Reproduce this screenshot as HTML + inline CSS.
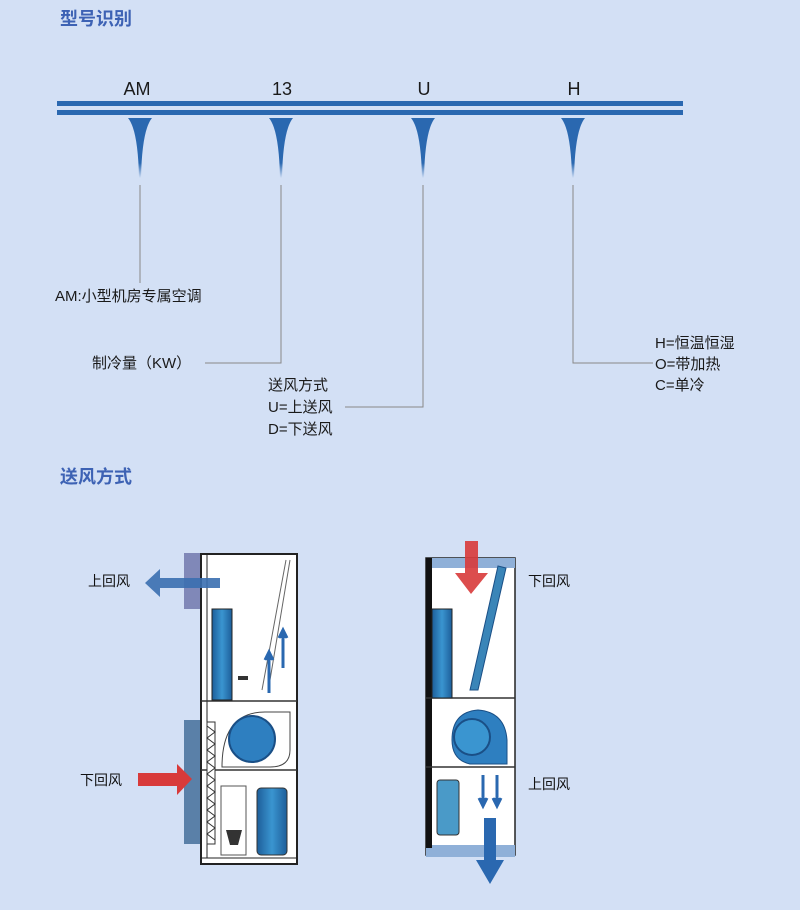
<!DOCTYPE html>
<html><head><meta charset="utf-8"><style>
body{margin:0;background:#d3e0f5;}
svg{display:block;font-family:"Liberation Sans","Noto Sans CJK SC",sans-serif;}
</style></head><body>
<svg width="800" height="910" viewBox="0 0 800 910">
<defs>
<linearGradient id="td" x1="0" y1="0" x2="0" y2="1"><stop offset="0" stop-color="#2a68b0"/><stop offset="0.75" stop-color="#2a68b0"/><stop offset="1" stop-color="#d3e0f5"/></linearGradient>
<linearGradient id="cyl" x1="0" y1="0" x2="1" y2="0"><stop offset="0" stop-color="#1d5e9a"/><stop offset="0.5" stop-color="#3a95d0"/><stop offset="1" stop-color="#1d5e9a"/></linearGradient>
</defs>
<rect width="800" height="910" fill="#d3e0f5"/>
<text x="60" y="25" font-size="18" font-weight="bold" fill="#3d62b4">型号识别</text>
<text x="60" y="483" font-size="18" font-weight="bold" fill="#3d62b4">送风方式</text>
<g font-size="18" fill="#1a1a1a" text-anchor="middle">
<text x="137" y="95">AM</text><text x="282" y="95">13</text><text x="424" y="95">U</text><text x="574" y="95">H</text></g>
<rect x="57" y="101" width="626" height="5" fill="#2a68b0"/>
<rect x="57" y="110" width="626" height="5" fill="#2a68b0"/>
<g fill="url(#td)">
<path d="M128 118 L152 118 Q142 130 141 178 L139 178 Q138 130 128 118Z"/>
<path d="M269 118 L293 118 Q283 130 282 178 L280 178 Q279 130 269 118Z"/>
<path d="M411 118 L435 118 Q425 130 424 178 L422 178 Q421 130 411 118Z"/>
<path d="M561 118 L585 118 Q575 130 574 178 L572 178 Q571 130 561 118Z"/>
</g>
<g stroke="#888" stroke-width="1" fill="none">
<path d="M140 185 V283"/><path d="M281 185 V363 H205"/><path d="M423 185 V407 H345"/><path d="M573 185 V363 H653"/>
</g>
<g font-size="15" fill="#1a1a1a">
<text x="55" y="301">AM:小型机房专属空调</text>
<text x="92" y="368">制冷量（KW）</text>
<text x="268" y="390">送风方式</text><text x="268" y="412">U=上送风</text><text x="268" y="434">D=下送风</text>
<text x="655" y="348">H=恒温恒湿</text><text x="655" y="369">O=带加热</text><text x="655" y="390">C=单冷</text>
</g>
<g font-size="14" fill="#111">
<text x="88" y="586">上回风</text><text x="80" y="785">下回风</text>
<text x="528" y="586">下回风</text><text x="528" y="789">上回风</text>
</g>
<!-- Unit 1 -->
<rect x="184" y="553" width="17" height="56" fill="#8088b8"/>
<rect x="184" y="720" width="17" height="124" fill="#5a80a8"/>
<rect x="201" y="554" width="96" height="310" fill="#fff" stroke="#222" stroke-width="2"/>
<line x1="207" y1="554" x2="207" y2="858" stroke="#222"/>
<line x1="201" y1="858" x2="297" y2="858" stroke="#222"/>
<line x1="201" y1="701" x2="297" y2="701" stroke="#333" stroke-width="1.5"/>
<line x1="201" y1="770" x2="297" y2="770" stroke="#333" stroke-width="1.5"/>
<rect x="212" y="609" width="20" height="91" fill="url(#cyl)" stroke="#222"/>
<path d="M268 692 L290 560 M262 690 L286 560" stroke="#666" fill="none"/>
<rect x="238" y="676" width="10" height="4" fill="#333"/>
<polygon points="145,583 160,569 160,578 220,578 220,588 160,588 160,597" fill="#3a6fb0" opacity="0.9"/>
<path d="M269 693 V657 M265 660 L269 652 L273 660" stroke="#2a68b0" stroke-width="3" fill="#2a68b0"/>
<path d="M283 668 V635 M279 638 L283 630 L287 638" stroke="#2a68b0" stroke-width="3" fill="#2a68b0"/>
<path d="M222 767 Q222 712 265 712 L290 712 L290 750 Q290 767 270 767Z" fill="#fff" stroke="#444"/>
<circle cx="252" cy="739" r="23" fill="#2e7fc0" stroke="#1a4f86" stroke-width="2"/>
<rect x="207" y="722" width="8" height="122" fill="#fff" stroke="#333"/>
<path d="M207 726 l8 6 l-8 6 l8 6 l-8 6 l8 6 l-8 6 l8 6 l-8 6 l8 6 l-8 6 l8 6 l-8 6 l8 6 l-8 6 l8 6 l-8 6 l8 6 l-8 6 l8 6" stroke="#333" fill="none"/>
<polygon points="138,773 177,773 177,764 192,779 177,795 177,786 138,786" fill="#d83a3a"/>
<rect x="221" y="786" width="25" height="69" fill="#fff" stroke="#555"/>
<path d="M226 830 H242 L238 845 H230Z" fill="#333"/>
<rect x="257" y="788" width="30" height="67" rx="4" fill="url(#cyl)" stroke="#333"/>
<!-- Unit 2 -->
<rect x="426" y="558" width="89" height="297" fill="#fff" stroke="#222" stroke-width="1.5"/>
<rect x="426" y="558" width="89" height="10" fill="#8fb0d8"/>
<rect x="426" y="845" width="89" height="12" fill="#8fb0d8"/>
<rect x="426" y="558" width="6" height="290" fill="#111"/>
<line x1="426" y1="698" x2="515" y2="698" stroke="#333" stroke-width="1.5"/>
<line x1="426" y1="767" x2="515" y2="767" stroke="#333" stroke-width="1.5"/>
<rect x="432" y="609" width="20" height="89" fill="url(#cyl)" stroke="#222"/>
<polygon points="470,690 478,690 506,568 498,566" fill="#3a85b8" stroke="#1a4f86"/>
<polygon points="465,541 478,541 478,573 488,573 471,594 455,573 465,573" fill="#d83a3a" opacity="0.9"/>
<path d="M452 740 Q452 712 478 710 Q505 712 507 740 L507 764 L470 764 Q452 760 452 740Z" fill="#2e7fc0" stroke="#1a4f86"/>
<circle cx="472" cy="737" r="18" fill="#3a95d0" stroke="#1a4f86" stroke-width="2"/>
<rect x="437" y="780" width="22" height="55" rx="3" fill="#4a9ac8" stroke="#333"/>
<path d="M483 775 V800 M479 798 L483 806 L487 798 M497 775 V800 M493 798 L497 806 L501 798" stroke="#2a68b0" stroke-width="3" fill="#2a68b0"/>
<polygon points="484,818 496,818 496,860 504,860 490,884 476,860 484,860" fill="#2a68b0"/>
</svg>
</body></html>
